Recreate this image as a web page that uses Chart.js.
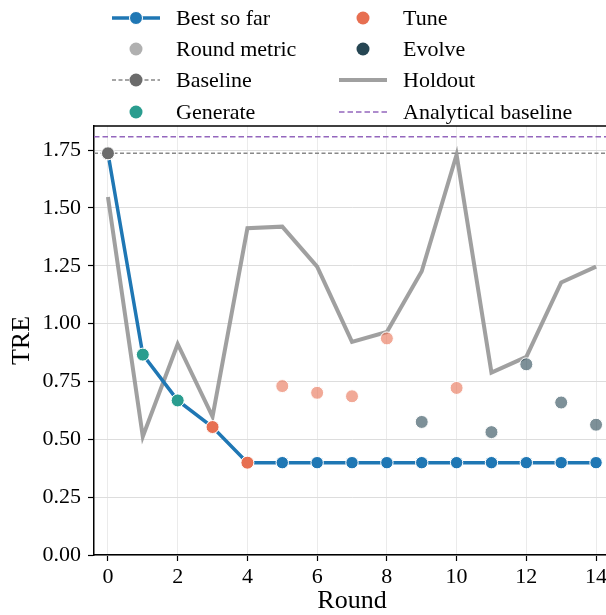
<!DOCTYPE html>
<html>
<head>
<meta charset="utf-8">
<script src="https://cdn.jsdelivr.net/npm/chart.js@4.4.1/dist/chart.umd.min.js"></script>
<style>
  html, body { margin: 0; padding: 0; background: #fff; overflow: hidden; width: 606px; height: 615px; }
  #wrap { width: 620px; height: 615px; }
</style>
</head>
<body>
<div id="wrap"><canvas id="c" width="620" height="615"></canvas></div>
<script>
// ---- data ----
const rounds = [0, 1, 2, 3, 4, 5, 6, 7, 8, 9, 10, 11, 12, 13, 14];
const bestSoFar = [1.736, 0.866, 0.668, 0.553, 0.399, 0.399, 0.399, 0.399, 0.399, 0.399, 0.399, 0.399, 0.399, 0.399, 0.399];
const roundMetric = [1.736, 0.866, 0.668, 0.553, 0.399, 0.730, 0.701, 0.686, 0.936, 0.575, 0.722, 0.531, 0.824, 0.659, 0.563];
const roundType = ['Baseline', 'Generate', 'Generate', 'Tune', 'Tune', 'Tune', 'Tune', 'Tune', 'Tune', 'Evolve', 'Tune', 'Evolve', 'Evolve', 'Evolve', 'Evolve'];
const holdout = [1.547, 0.512, 0.912, 0.598, 1.412, 1.419, 1.246, 0.921, 0.964, 1.226, 1.730, 0.788, 0.856, 1.178, 1.246];
const baselineValue = 1.736;
const analyticalBaseline = 1.808;
const xTicks = [0, 2, 4, 6, 8, 10, 12, 14];
const xTickLabels = ['0', '2', '4', '6', '8', '10', '12', '14'];
const yTicks = [0, 0.25, 0.5, 0.75, 1.0, 1.25, 1.5, 1.75];
const yTickLabels = ['0.00', '0.25', '0.50', '0.75', '1.00', '1.25', '1.50', '1.75'];
const xLimits = [-0.4, 14.4];
const yLimits = [0, 1.854];

// ---- styles ----
const typeColor = { Baseline: '#6b6b6b', Generate: '#2a9d8f', Tune: '#e76f51', Evolve: '#264653' };
const typeColorFaded = { Baseline: 'rgba(107,107,107,0.6)', Generate: 'rgba(42,157,143,0.6)', Tune: 'rgba(231,111,81,0.6)', Evolve: 'rgba(38,70,83,0.6)' };
const BLUE = '#1f77b4';
const FONT = '"Liberation Serif", "Times New Roman", serif';

const pts = (ys) => rounds.map((r, i) => ({ x: r, y: ys[i] }));
const metricColors = roundMetric.map((v, i) => Math.abs(v - bestSoFar[i]) < 1e-9 ? typeColor[roundType[i]] : typeColorFaded[roundType[i]]);

const legendPlugin = {
  id: 'customLegend',
  afterDraw(chart) {
    const ctx = chart.ctx;
    const a = chart.chartArea;
    ctx.save();
    // top spine
    ctx.strokeStyle = '#000';
    ctx.lineWidth = 1.5;
    ctx.beginPath();
    ctx.moveTo(a.left, a.top);
    ctx.lineTo(a.right, a.top);
    ctx.stroke();

    const rows = [18, 49, 80, 112];
    const col1 = { x0: 112, x1: 160, mx: 136, tx: 176 };
    const col2 = { x0: 339, x1: 387, mx: 363, tx: 403 };
    const dot = (x, y, r, color, edge) => {
      ctx.beginPath();
      ctx.arc(x, y, r, 0, Math.PI * 2);
      ctx.fillStyle = color;
      ctx.fill();
      if (edge) { ctx.strokeStyle = '#fff'; ctx.lineWidth = 1; ctx.stroke(); }
    };
    const line = (c, y, color, w, dash) => {
      ctx.beginPath();
      ctx.setLineDash(dash || []);
      ctx.strokeStyle = color;
      ctx.lineWidth = w;
      ctx.moveTo(c.x0, y);
      ctx.lineTo(c.x1, y);
      ctx.stroke();
      ctx.setLineDash([]);
    };
    const items = [
      [col1, rows[0], 'Best so far', () => { line(col1, rows[0], BLUE, 3.5); dot(col1.mx, rows[0], 6.5, BLUE, true); }],
      [col1, rows[1], 'Round metric', () => dot(col1.mx, rows[1], 6.5, '#b0b0b0', false)],
      [col1, rows[2], 'Baseline', () => { line(col1, rows[2], '#888', 1.5, [4, 2.5]); dot(col1.mx, rows[2], 6.5, '#6b6b6b', false); }],
      [col1, rows[3], 'Generate', () => dot(col1.mx, rows[3], 6.5, typeColor.Generate, false)],
      [col2, rows[0], 'Tune', () => dot(col2.mx, rows[0], 6.5, typeColor.Tune, false)],
      [col2, rows[1], 'Evolve', () => dot(col2.mx, rows[1], 6.5, typeColor.Evolve, false)],
      [col2, rows[2], 'Holdout', () => line(col2, rows[2], '#a0a0a0', 4)],
      [col2, rows[3], 'Analytical baseline', () => line(col2, rows[3], '#9467bd', 1.5, [5.5, 3])]
    ];
    ctx.font = '22px ' + FONT;
    ctx.textBaseline = 'middle';
    ctx.textAlign = 'left';
    for (const [c, y, label, drawHandle] of items) {
      drawHandle();
      ctx.fillStyle = '#000';
      ctx.fillText(label, c.tx, y + 1);
    }
    ctx.restore();
  }
};

new Chart(document.getElementById('c'), {
  type: 'line',
  data: {
    datasets: [
      {
        label: 'Baseline point',
        data: [{ x: rounds[0], y: roundMetric[0] }],
        showLine: false,
        pointRadius: 6.5,
        pointBorderWidth: 1,
        pointBackgroundColor: typeColor.Baseline,
        pointBorderColor: '#fff',
        order: 0
      },
      {
        label: 'Round metric',
        data: pts(roundMetric),
        showLine: false,
        pointRadius: 6.5,
        pointBorderWidth: 1,
        pointBackgroundColor: metricColors,
        pointBorderColor: '#fff',
        order: 1
      },
      {
        label: 'Best so far',
        data: pts(bestSoFar),
        borderColor: BLUE,
        borderWidth: 3.5,
        pointRadius: 6.2,
        pointBorderWidth: 1,
        pointBackgroundColor: BLUE,
        pointBorderColor: '#fff',
        tension: 0,
        order: 2
      },
      {
        label: 'Baseline',
        data: [{ x: xLimits[0], y: baselineValue }, { x: xLimits[1], y: baselineValue }],
        borderColor: '#888',
        borderWidth: 1.5,
        borderDash: [4, 2.5],
        pointRadius: 0,
        order: 3
      },
      {
        label: 'Analytical baseline',
        data: [{ x: xLimits[0], y: analyticalBaseline }, { x: xLimits[1], y: analyticalBaseline }],
        borderColor: '#9467bd',
        borderWidth: 1.5,
        borderDash: [5.5, 3],
        pointRadius: 0,
        order: 4
      },
      {
        label: 'Holdout',
        data: pts(holdout),
        borderColor: 'rgba(150,150,150,0.9)',
        borderWidth: 4,
        pointRadius: 0,
        tension: 0,
        order: 5
      }
    ]
  },
  options: {
    responsive: false,
    animation: false,
    devicePixelRatio: 1,
    layout: { padding: { top: 126, right: 10, left: 0, bottom: 0 } },
    plugins: { legend: { display: false }, tooltip: { enabled: false } },
    elements: { line: { borderCapStyle: 'butt', borderJoinStyle: 'miter' } },
    scales: {
      x: {
        type: 'linear',
        min: xLimits[0],
        max: xLimits[1],
        afterBuildTicks: s => { s.ticks = xTicks.map(v => ({ value: v })); },
        afterFit: s => { s.height = 60; },
        ticks: {
          autoSkip: false,
          maxRotation: 0,
          padding: 3,
          color: '#000',
          font: { family: FONT, size: 22 },
          callback: (v, i) => xTickLabels[i]
        },
        grid: { color: '#ebebeb', lineWidth: 1, tickColor: '#000', tickLength: 6, tickWidth: 1.2 },
        border: { color: '#000', width: 1.5 },
        title: { display: true, text: 'Round', color: '#000', font: { family: FONT, size: 26, lineHeight: 1 }, padding: { top: 0, bottom: 1 } }
      },
      y: {
        type: 'linear',
        min: yLimits[0],
        max: yLimits[1],
        afterBuildTicks: s => { s.ticks = yTicks.map(v => ({ value: v })); },
        afterFit: s => { s.width = 94; },
        ticks: {
          autoSkip: false,
          padding: 7,
          color: '#000',
          font: { family: FONT, size: 22 },
          callback: (v, i) => yTickLabels[i]
        },
        grid: { color: '#dddddd', lineWidth: 1, tickColor: '#000', tickLength: 6, tickWidth: 1.2 },
        border: { color: '#000', width: 1.5 },
        title: { display: true, text: 'TRE', color: '#000', font: { family: FONT, size: 26, lineHeight: 1 }, padding: { top: 9, bottom: 0 } }
      }
    }
  },
  plugins: [legendPlugin]
});
</script>
</body>
</html>
